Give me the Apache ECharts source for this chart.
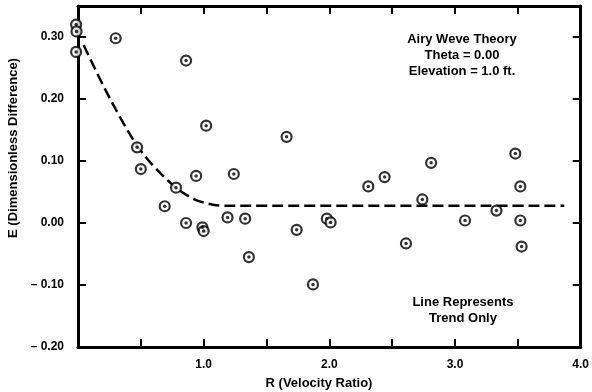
<!DOCTYPE html>
<html>
<head>
<meta charset="utf-8">
<script src="https://cdn.jsdelivr.net/npm/echarts@6/dist/echarts.min.js"></script>
<style>
  html, body { margin: 0; padding: 0; background: #fff; }
  #chart { width: 592px; height: 392px; }
</style>
</head>
<body>
<div id="chart"></div>
<script>
// Measured points: velocity ratio R and dimensionless difference E
var rValues = [-0.015, -0.012, -0.015, 0.30, 0.86, 1.02, 0.47, 0.50, 0.94, 1.24,
               0.78, 0.69, 0.86, 0.99, 1.00, 1.19, 1.33, 1.36, 1.66, 1.74,
               1.87, 1.98, 2.01, 2.31, 2.44, 2.61, 2.74, 2.81, 3.08, 3.33,
               3.48, 3.52, 3.52, 3.53];
var eValues = [0.320, 0.309, 0.276, 0.298, 0.262, 0.157, 0.122, 0.087, 0.076, 0.079,
               0.057, 0.027, 0.000, -0.007, -0.013, 0.009, 0.007, -0.055, 0.139, -0.011,
               -0.099, 0.007, 0.001, 0.059, 0.074, -0.033, 0.038, 0.097, 0.004, 0.020,
               0.112, 0.059, 0.004, -0.038];

// Hand-drawn trend line
var trendR = [0.045, 0.20, 0.35, 0.47, 0.60, 0.78, 0.90, 1.00, 1.15, 1.35, 3.87];
var trendE = [0.287, 0.222, 0.165, 0.125, 0.092, 0.057, 0.041, 0.033, 0.028, 0.028, 0.028];

// Labelled ticks
var xTickLabels = ['1.0', '2.0', '3.0', '4.0'];
var yTickLabels = ['\u2013 0.20', '\u2013 0.10', '0.00', '0.10', '0.20', '0.30'];

var FONT = '"Liberation Sans", Arial, Helvetica, sans-serif';

var points = rValues.map(function (r, i) { return [r, eValues[i]]; });
var trend = trendR.map(function (r, i) { return [r, trendE[i]]; });

function isStep(v, step) {
  return Math.abs(v / step - Math.round(v / step)) < 1e-6;
}

var axisLine = { show: true, onZero: false, lineStyle: { color: '#000', width: 3 } };
var axisTick = { show: true, inside: true, length: 8, lineStyle: { color: '#000', width: 2 } };

var chart = echarts.init(document.getElementById('chart'), null, { renderer: 'canvas' });
chart.setOption({
  animation: false,
  backgroundColor: '#fff',
  grid: { left: 78, right: 7, top: 6, bottom: 45, containLabel: false },
  xAxis: [{
    type: 'value', position: 'bottom', min: 0, max: 4, interval: 0.5,
    axisLine: axisLine, axisTick: axisTick, splitLine: { show: false },
    axisLabel: {
      margin: 12, color: '#000', fontFamily: FONT, fontWeight: 'bold', fontSize: 12,
      showMaxLabel: true,
      formatter: function (v) {
        if (!isStep(v, 1) || Math.round(v) < 1) return '';
        return xTickLabels[Math.round(v) - 1];
      }
    }
  }, {
    type: 'value', position: 'top', min: 0, max: 4, interval: 0.5,
    axisLine: axisLine, axisTick: axisTick, splitLine: { show: false },
    axisLabel: { show: false }
  }],
  yAxis: [{
    type: 'value', position: 'left', min: -0.2, max: 0.35, interval: 0.1,
    axisLine: axisLine, axisTick: axisTick, splitLine: { show: false },
    axisLabel: {
      margin: 14, color: '#000', fontFamily: FONT, fontWeight: 'bold', fontSize: 12,
      formatter: function (v) {
        if (!isStep(v, 0.1)) return '';
        var k = Math.round(v * 10) + 2;
        return yTickLabels[k] || '';
      }
    }
  }, {
    type: 'value', position: 'right', min: -0.2, max: 0.35, interval: 0.1,
    axisLine: axisLine, axisTick: axisTick, splitLine: { show: false },
    axisLabel: { show: false }
  }],
  graphic: [
    { type: 'text', x: 13, y: 148, rotation: Math.PI / 2,
      style: { text: 'E (Dimensionless Difference)', font: 'bold 13px ' + FONT,
               fill: '#000', align: 'center', verticalAlign: 'middle' } },
    { type: 'text', x: 319, y: 383,
      style: { text: 'R (Velocity Ratio)', font: 'bold 13px ' + FONT,
               fill: '#000', align: 'center', verticalAlign: 'middle' } },
    { type: 'text', x: 462, y: 55,
      style: { text: 'Airy Weve Theory\nTheta = 0.00\nElevation = 1.0 ft.',
               font: 'bold 13px ' + FONT, lineHeight: 16,
               fill: '#000', align: 'center', verticalAlign: 'middle' } },
    { type: 'text', x: 463, y: 310,
      style: { text: 'Line Represents\nTrend Only',
               font: 'bold 13px ' + FONT, lineHeight: 16,
               fill: '#000', align: 'center', verticalAlign: 'middle' } }
  ],
  series: [{
    type: 'line', data: trend, showSymbol: false, smooth: 0.35,
    lineStyle: { color: '#000', width: 2.5, type: [11, 5] }, z: 2
  }, {
    type: 'scatter', data: points, symbol: 'circle', symbolSize: 10, clip: false,
    itemStyle: { color: '#fff', borderColor: '#000', borderWidth: 2.2 }, z: 3
  }, {
    type: 'scatter', data: points, symbol: 'circle', symbolSize: 3.5, clip: false,
    itemStyle: { color: '#000' }, z: 4
  }]
});
</script>
</body>
</html>
